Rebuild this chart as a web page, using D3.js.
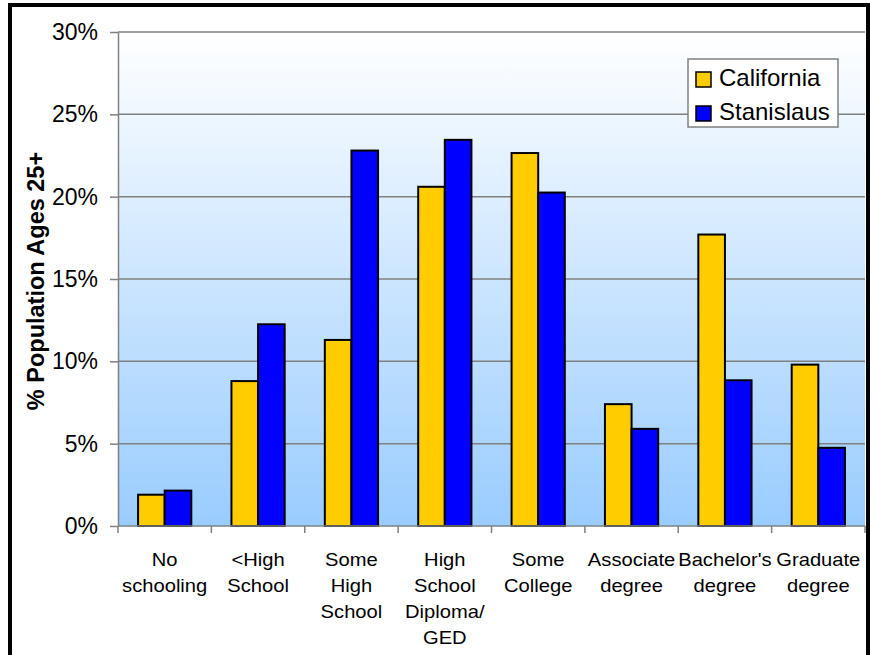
<!DOCTYPE html>
<html>
<meta charset="utf-8">
<style>
body { margin: 0; background: #fff; }
text { font-family: "Liberation Sans", Arial, sans-serif; fill: #000; }
.grid line { stroke: #808080; stroke-width: 1.5; }
.axis path, .axis line { stroke: #808080; stroke-width: 1.5; }
.bar { stroke: #000; stroke-width: 2; }
</style>
<body>
<svg width="870" height="655"></svg>
<script src="https://cdn.jsdelivr.net/npm/d3@7"></script>
<script>

var categories = [
  ["No", "schooling"],
  ["<High", "School"],
  ["Some", "High", "School"],
  ["High", "School", "Diploma/", "GED"],
  ["Some", "College"],
  ["Associate", "degree"],
  ["Bachelor's", "degree"],
  ["Graduate", "degree"]
];
var seriesNames = ["California", "Stanislaus"];
var california = [1.9, 8.8, 11.3, 20.6, 22.65, 7.4, 17.7, 9.8];
var stanislaus = [2.15, 12.25, 22.8, 23.45, 20.25, 5.9, 8.85, 4.75];
var yTicks = [0, 5, 10, 15, 20, 25, 30];
var colors = ["#ffcc00", "#0000ff"];

var svg = d3.select("svg");

var plotLeft = 118, plotRight = 865, plotTop = 32, plotBottom = 526;

var y = d3.scaleLinear()
    .domain([0, 30])
    .range([plotBottom, plotTop]);

var x0 = d3.scaleBand()
    .domain(d3.range(categories.length))
    .range([plotLeft, plotRight])
    .paddingInner(0.43)
    .paddingOuter(0.215);

var x1 = d3.scaleBand()
    .domain([0, 1])
    .range([0, x0.bandwidth()]);

// plot background
var defs = svg.append("defs");
var grad = defs.append("linearGradient")
    .attr("id", "bg")
    .attr("x1", 0).attr("y1", 0).attr("x2", 0).attr("y2", 1);
grad.append("stop").attr("offset", "0%").attr("stop-color", "#ffffff");
grad.append("stop").attr("offset", "100%").attr("stop-color", "#99ccff");

svg.append("rect")
    .attr("x", plotLeft)
    .attr("y", plotTop)
    .attr("width", plotRight - plotLeft)
    .attr("height", plotBottom - plotTop)
    .attr("fill", "url(#bg)");

// gridlines
svg.append("g")
    .attr("class", "grid")
    .selectAll("line")
    .data(yTicks.filter(function(d) { return d > 0; }))
    .enter().append("line")
      .attr("x1", plotLeft)
      .attr("x2", plotRight)
      .attr("y1", function(d) { return y(d); })
      .attr("y2", function(d) { return y(d); });

// bars
var rows = categories.map(function(c, i) { return [california[i], stanislaus[i]]; });

svg.append("g")
  .selectAll("g")
  .data(rows)
  .enter().append("g")
    .attr("transform", function(d, i) { return "translate(" + x0(i) + ",0)"; })
  .selectAll("rect")
  .data(function(d) { return d; })
  .enter().append("rect")
    .attr("class", "bar")
    .attr("x", function(d, j) { return x1(j); })
    .attr("width", x1.bandwidth())
    .attr("y", function(d) { return y(d); })
    .attr("height", function(d) { return plotBottom - y(d); })
    .attr("fill", function(d, j) { return colors[j]; });

// y axis
var yAxis = svg.append("g")
    .attr("class", "axis")
    .attr("transform", "translate(" + plotLeft + ",0)")
    .call(d3.axisLeft(y)
      .tickValues(yTicks)
      .tickSize(8)
      .tickSizeOuter(0)
      .tickPadding(12)
      .tickFormat(function(d) { return d + "%"; }));
yAxis.selectAll("text")
    .attr("font-size", 23)
    .attr("font-family", "Liberation Sans, Arial, sans-serif")
    .attr("fill", "#000");

// x axis
var step = x0.step();
var xAxis = svg.append("g")
    .attr("class", "axis")
    .attr("transform", "translate(0," + plotBottom + ")");
xAxis.append("line")
    .attr("x1", plotLeft).attr("x2", plotRight)
    .attr("y1", 0).attr("y2", 0);
xAxis.selectAll(".tick")
    .data(d3.range(categories.length + 1))
    .enter().append("line")
      .attr("x1", function(i) { return plotLeft + i * step; })
      .attr("x2", function(i) { return plotLeft + i * step; })
      .attr("y1", 0).attr("y2", 7);

var labels = svg.append("g")
  .selectAll("g")
  .data(categories)
  .enter().append("g")
    .attr("transform", function(d, i) {
      return "translate(" + (x0(i) + x0.bandwidth() / 2) + ",0) scale(1.12,1)";
    });
labels.selectAll("text")
  .data(function(d) { return d; })
  .enter().append("text")
    .attr("x", 0)
    .attr("y", function(d, k) { return 566 + k * 26; })
    .attr("text-anchor", "middle")
    .attr("font-size", 18)
    .text(function(d) { return d; });

// y title
svg.append("text")
    .attr("transform", "translate(44,281) rotate(-90)")
    .attr("text-anchor", "middle")
    .attr("font-size", 23.5)
    .attr("font-weight", "bold")
    .text("% Population Ages 25+");

// legend
var legend = svg.append("g")
    .attr("transform", "translate(688,59)");
legend.append("rect")
    .attr("width", 150)
    .attr("height", 68)
    .attr("fill", "#fff")
    .attr("stroke", "#808080")
    .attr("stroke-width", 1.5);
var items = legend.selectAll(".item")
    .data(seriesNames)
    .enter().append("g")
      .attr("transform", function(d, i) { return "translate(0," + (i * 34) + ")"; });
items.append("rect")
    .attr("x", 8)
    .attr("y", 13)
    .attr("width", 15)
    .attr("height", 15)
    .attr("fill", function(d, i) { return colors[i]; })
    .attr("stroke", "#000")
    .attr("stroke-width", 1.5);
items.append("text")
    .attr("x", 31)
    .attr("y", 27)
    .attr("font-size", 24)
    .text(function(d) { return d; });

// outer frame
svg.append("rect")
    .attr("x", 10)
    .attr("y", 5)
    .attr("width", 858)
    .attr("height", 700)
    .attr("fill", "none")
    .attr("stroke", "#000")
    .attr("stroke-width", 4);

</script>
</body>
</html>
